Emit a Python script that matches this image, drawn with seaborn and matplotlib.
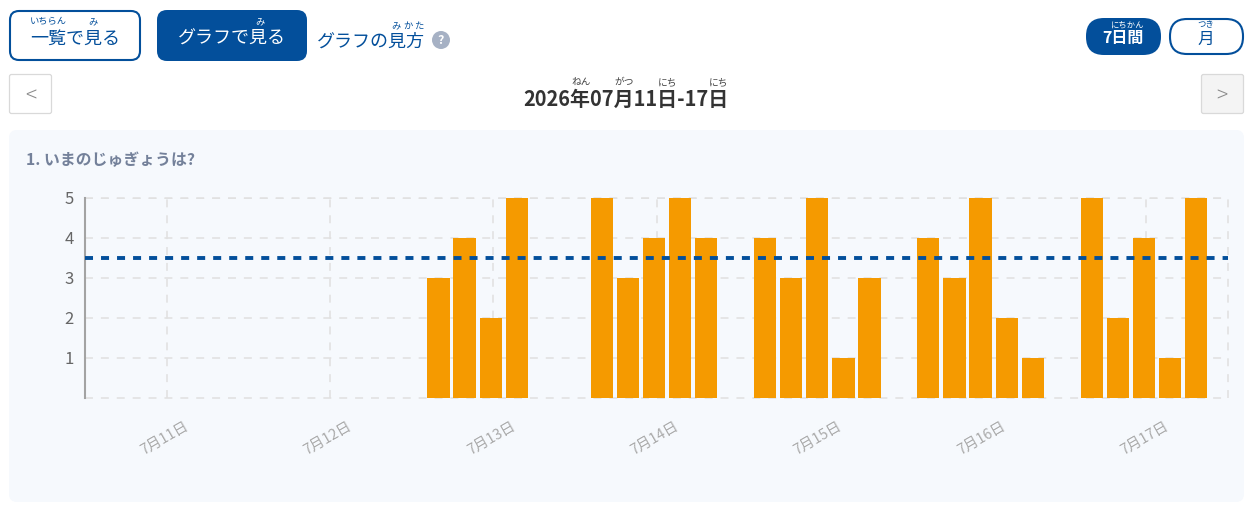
import numpy as np
import pandas as pd
import matplotlib
matplotlib.use('Agg')
import matplotlib.pyplot as plt
from matplotlib.patches import FancyBboxPatch, Circle
from matplotlib.transforms import ScaledTranslation
import seaborn as sns

days = ['7月11日', '7月12日', '7月13日', '7月14日', '7月15日', '7月16日', '7月17日']
slot1 = [np.nan, np.nan, 3, 5, 4, 4, 5]
slot2 = [np.nan, np.nan, 4, 3, 3, 3, 2]
slot3 = [np.nan, np.nan, 2, 4, 5, 5, 4]
slot4 = [np.nan, np.nan, 5, 5, 1, 2, 1]
slot5 = [np.nan, np.nan, np.nan, 4, 3, 1, 5]
threshold = 3.5
y_ticks = [1, 2, 3, 4, 5]

W, H = 1258, 512
NAVY = '#034f9b'
ORANGE = '#f59a00'
PANEL = '#f6f9fd'
GRID = '#e0e0e0'
GRID_DASH = (0, (5.2, 5.2))

sns.set_theme(style='white')
plt.rcParams['font.family'] = ['Noto Sans CJK JP', 'DejaVu Sans']

fig = plt.figure(figsize=(W / 100, H / 100), dpi=100, facecolor='white')

# page furniture lives on a full-figure axes in pixel coordinates
bg = fig.add_axes([0, 0, 1, 1])
bg.set_xlim(0, W)
bg.set_ylim(H, 0)
bg.axis('off')


def box(x, y, w, h, r, fc, ec='none', lw=0):
    bg.add_patch(FancyBboxPatch((x + r, y + r), w - 2 * r, h - 2 * r,
                                boxstyle=f'round,pad={r}', fc=fc, ec=ec, lw=lw))


def label(x, y, s, size, color, weight='normal', **kw):
    bg.text(x, y, s, fontsize=size, color=color, fontweight=weight,
            ha=kw.pop('ha', 'center'), va='center', **kw)


box(10, 11, 130, 49, 9, 'white', NAVY, 1.5)
label(75, 39, '一覧で見る', 13, NAVY)
label(48, 21.5, 'いちらん', 6.7, NAVY)
label(93, 21.5, 'み', 6.7, NAVY)

box(157, 10, 150, 51, 10, NAVY)
label(232, 38.5, 'グラフで見る', 13, 'white')
label(259.5, 21.5, 'み', 6.7, 'white')

label(371, 42, 'グラフの見方', 13, NAVY)
for rx, rt in [(396, 'み'), (407.5, 'か'), (419, 'た')]:
    label(rx, 26, rt, 6.7, NAVY)
bg.add_patch(Circle((441, 40), 9, fc='#a6b1c4', ec='none'))
label(441, 40, '?', 9, 'white', weight='bold')

box(1086, 18, 75, 37, 18, NAVY)
label(1123, 38, '7日間', 11.5, 'white', weight='bold')
label(1128, 25, 'にちかん', 6, 'white')
box(1170, 19, 73, 35, 17, 'white', NAVY, 1.5)
label(1206, 39, '月', 12, NAVY)
label(1206, 25, 'つき', 6, NAVY)

box(9.5, 74.5, 42, 39, 2, 'white', '#d9d9d9', 0.9)
label(31, 96, '<', 15, '#8a8a8a', weight='light')
box(1201.5, 74.5, 42, 39, 2, '#f4f4f4', '#d9d9d9', 0.9)
label(1222, 96, '>', 15, '#8a8a8a', weight='light')

label(626, 99, '2026年07月11日-17日', 14.4, '#333333', weight='bold')
for rx, rt in [(581, 'ねん'), (624, 'がつ'), (668, 'にち'), (719, 'にち')]:
    label(rx, 82, rt, 7, '#444444')

box(9, 130, 1235, 372, 8, PANEL)
label(26, 160, '1. いまのじゅぎょうは?', 11.4, '#74819a', weight='bold', ha='left')

# the chart itself
df = pd.DataFrame({'day': days, 's1': slot1, 's2': slot2, 's3': slot3, 's4': slot4, 's5': slot5})
long_df = df.melt(id_vars='day', var_name='slot', value_name='score')

left, right, top, bottom = 85, 1228, 198, 398
ax = fig.add_axes([left / W, 1 - bottom / H, (right - left) / W, (bottom - top) / H])
ax.patch.set_alpha(0)
sns.barplot(data=long_df, x='day', y='score', hue='slot', order=days, width=0.8, gap=0.15,
            palette=[ORANGE] * 5, saturation=1, legend=False, errorbar=None, ax=ax, zorder=3,
            linewidth=0)

# bars sit a few pixels left of the day gridlines in the original
shift = 2.5 / ((right - left) / 7)
ax.set_xlim(-0.5 + shift, 6.5 + shift)
ax.set_ylim(0, 5)
ax.set_xticks(np.arange(len(days)) + shift)
ax.set_xticklabels(days, rotation=30, ha='center', fontsize=10.4, color='#aaaaaa')
ax.set_yticks(y_ticks)
ax.set_yticklabels(y_ticks, fontsize=12, color='#666666')
ax.set_xlabel('')
ax.set_ylabel('')
ax.tick_params(axis='x', length=0, pad=15)
ax.tick_params(axis='y', length=0, pad=8)
nudge = ScaledTranslation(-2 / 100, 0, fig.dpi_scale_trans)
for t in ax.get_xticklabels():
    t.set_transform(t.get_transform() + nudge)

ax.grid(True, color=GRID, lw=1.1, ls=GRID_DASH, zorder=0)
ax.set_axisbelow(True)
ax.axhline(0, color=GRID, lw=1.1, ls=GRID_DASH, zorder=1, clip_on=False)
ax.axhline(5, color=GRID, lw=1.1, ls=GRID_DASH, zorder=1, clip_on=False)
ax.axvline(6.5 + shift, color=GRID, lw=1.1, ls=GRID_DASH, zorder=1, clip_on=False)
ax.axhline(threshold, color=NAVY, lw=2.8, ls=(0, (2.06, 2.06)), zorder=4)

for side in ['top', 'right', 'bottom']:
    ax.spines[side].set_visible(False)
ax.spines['left'].set_color('#a3a3a3')
ax.spines['left'].set_linewidth(1.5)

fig.savefig('out.png', dpi=100)
